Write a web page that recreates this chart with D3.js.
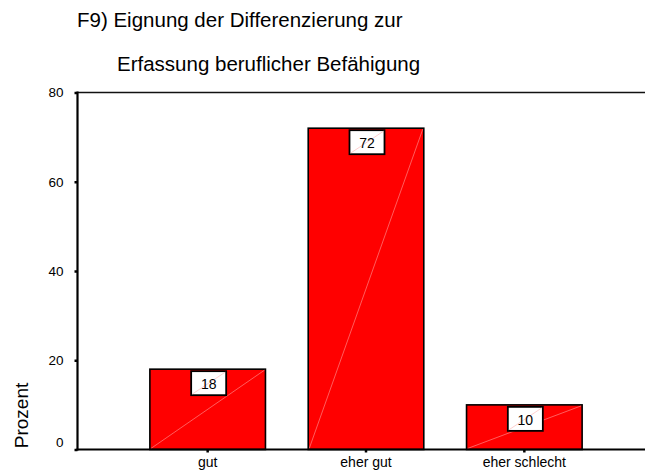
<!DOCTYPE html>
<html>
<head>
<meta charset="utf-8">
<script src="https://cdn.jsdelivr.net/npm/d3@7"></script>
<style>
  html, body { margin: 0; padding: 0; background: #fff; }
  svg { display: block; font-family: "Liberation Sans", Arial, sans-serif; }
</style>
</head>
<body>
<svg id="chart" width="645" height="473"></svg>
<script>
const titleLines = ["F9) Eignung der Differenzierung zur", "Erfassung beruflicher Befähigung"];
const categories = ["gut", "eher gut", "eher schlecht"];
const values = [18, 72, 10];
const yTicks = [0, 20, 40, 60, 80];
const yLabel = "Prozent";

const svg = d3.select("#chart");
const W = 645, H = 473;

const y = d3.scaleLinear().domain([0, 80]).range([449.5, 92.5]);
const x = d3.scaleBand().domain(categories).range([128.5, 603.5])
  .paddingInner(0.27).paddingOuter(0.135);

// titles
svg.append("text").attr("x", 77).attr("y", 27).attr("font-size", 20.5).attr("fill", "#000").text(titleLines[0]);
svg.append("text").attr("x", 117).attr("y", 71).attr("font-size", 20.5).attr("fill", "#000").text(titleLines[1]);

// frame lines
const left = 77.5;
svg.append("line").attr("x1", left).attr("x2", W).attr("y1", y(80)).attr("y2", y(80))
  .attr("stroke", "#111").attr("stroke-width", 1.6);

// bars
const bars = svg.append("g");
categories.forEach((c, i) => {
  const x0 = x(c), x1 = x(c) + x.bandwidth();
  const yt = y(values[i]), yb = y(0);
  bars.append("rect").attr("x", x0).attr("y", yt).attr("width", x.bandwidth()).attr("height", yb - yt)
    .attr("fill", "#ff0000").attr("stroke", "#000").attr("stroke-width", 1.6);
  bars.append("line").attr("x1", x0 + 1).attr("y1", yb - 1).attr("x2", x1 - 1).attr("y2", yt + 1)
    .attr("stroke", "#ff9a9a").attr("stroke-width", 0.6);
  // value box
  const cx = x0 + x.bandwidth() / 2;
  const bw = 35, bh = 24;
  const bx = cx - bw / 2 + 1, by = yt + 2;
  bars.append("rect").attr("x", bx).attr("y", by).attr("width", bw).attr("height", bh)
    .attr("fill", "#fff").attr("stroke", "#000").attr("stroke-width", 1.8);
  bars.append("line").attr("x1", bx + 1).attr("y1", by + bh - 1).attr("x2", bx + bw - 1).attr("y2", by + 1)
    .attr("stroke", "#ffb0b0").attr("stroke-width", 0.6);
  bars.append("text").attr("x", bx + bw / 2).attr("y", by + 18).attr("text-anchor", "middle")
    .attr("font-size", 14).attr("fill", "#000").text(values[i]);
});

// y axis
const yAxis = svg.append("g").attr("transform", `translate(${left},0)`)
  .call(d3.axisLeft(y).tickValues(yTicks).tickSize(3).tickPadding(11).tickFormat(d3.format("d")));
yAxis.select(".domain").remove();
yAxis.selectAll(".tick line").attr("stroke", "#000").attr("stroke-width", 2.5);
yAxis.selectAll(".tick text").attr("font-size", 13.5).attr("fill", "#000")
  .attr("font-family", "Liberation Sans, Arial, sans-serif");
yAxis.selectAll(".tick").filter(d => d === 0).select("text").attr("dy", "-0.2em");

svg.append("line").attr("x1", left).attr("x2", left).attr("y1", y(80) - 1).attr("y2", y(0) + 1)
  .attr("stroke", "#000").attr("stroke-width", 2.2);

// x axis
const xAxis = svg.append("g").attr("transform", `translate(0,${y(0)})`)
  .call(d3.axisBottom(x).tickSize(3).tickPadding(5));
xAxis.select(".domain").remove();
xAxis.selectAll(".tick line").attr("stroke", "#000").attr("stroke-width", 2.5);
xAxis.selectAll(".tick text").attr("font-size", 14).attr("fill", "#000")
  .attr("font-family", "Liberation Sans, Arial, sans-serif");

svg.append("line").attr("x1", left - 1).attr("x2", W).attr("y1", y(0)).attr("y2", y(0))
  .attr("stroke", "#000").attr("stroke-width", 2.2);

// y label
svg.append("text").attr("transform", "translate(28,415.5) rotate(-90)")
  .attr("text-anchor", "middle").attr("font-size", 19).attr("fill", "#000").text(yLabel);
</script>
</body>
</html>
